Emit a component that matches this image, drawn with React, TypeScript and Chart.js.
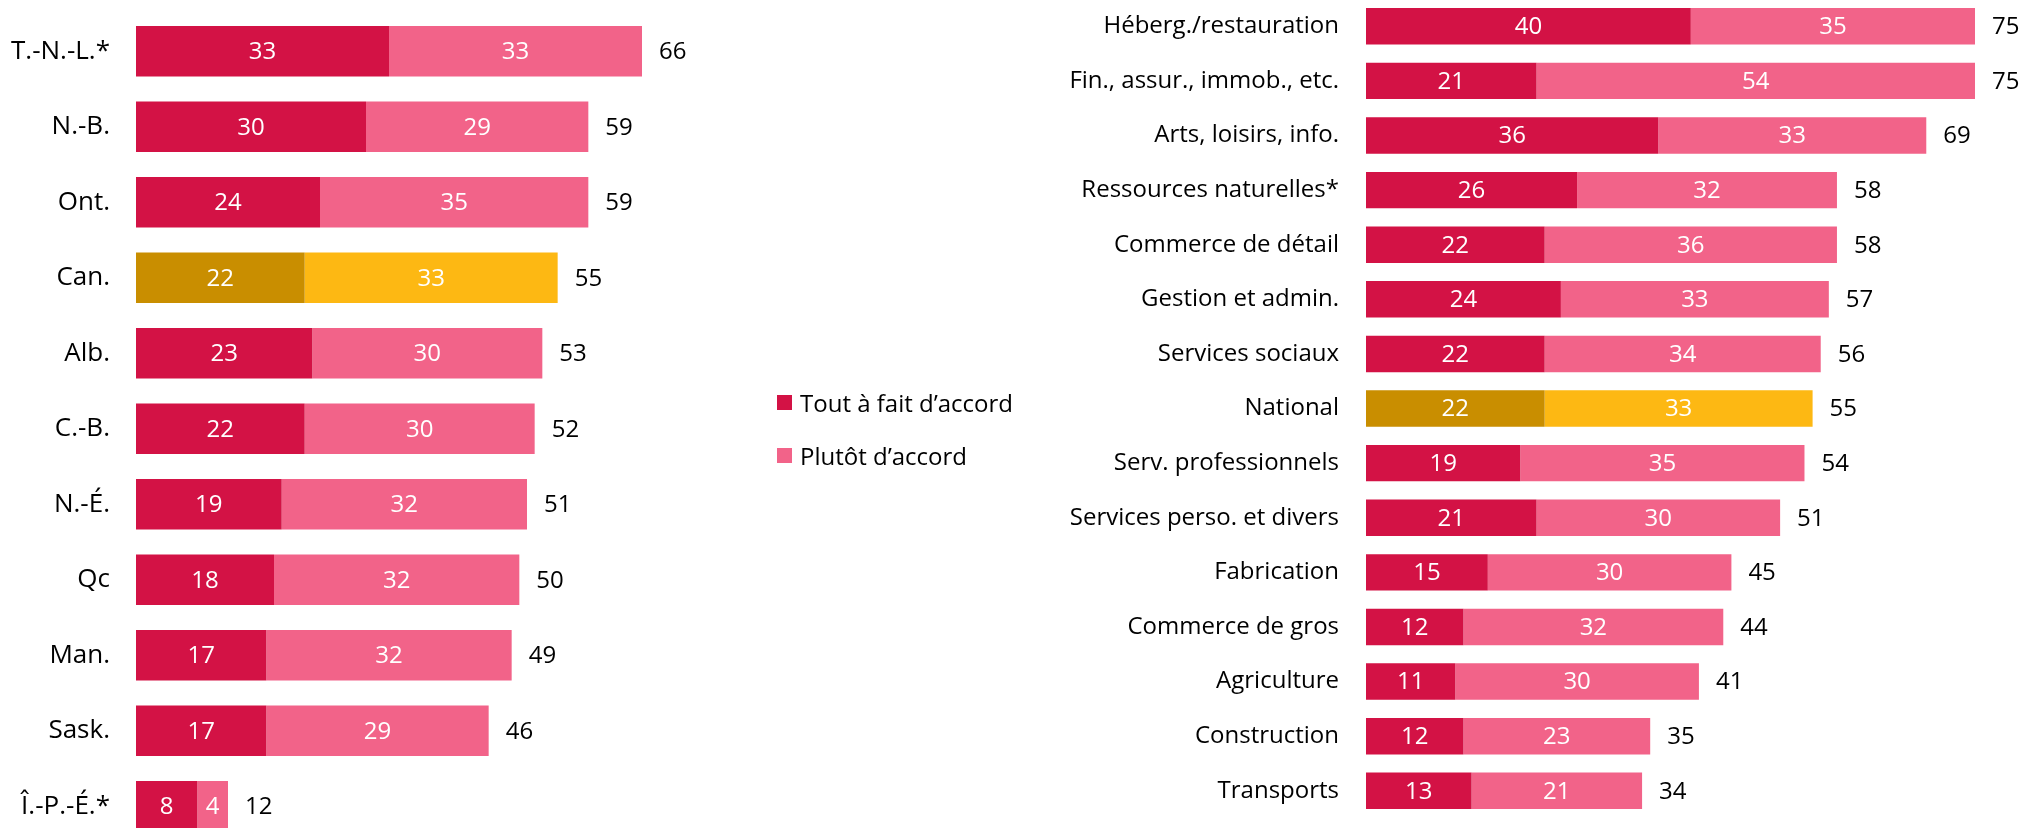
import React, { useEffect, useRef } from "react";
import { Chart, registerables } from "chart.js";

Chart.register(...registerables);

// ---- Data ----
const provinces = ["T.-N.-L.*", "N.-B.", "Ont.", "Can.", "Alb.", "C.-B.", "N.-É.", "Qc", "Man.", "Sask.", "Î.-P.-É.*"];
const provTout = [33, 30, 24, 22, 23, 22, 19, 18, 17, 17, 8];
const provPlutot = [33, 29, 35, 33, 30, 30, 32, 32, 32, 29, 4];
const provTotal = [66, 59, 59, 55, 53, 52, 51, 50, 49, 46, 12];
const provHighlight = "Can.";

const sectors = [
  "Héberg./restauration",
  "Fin., assur., immob., etc.",
  "Arts, loisirs, info.",
  "Ressources naturelles*",
  "Commerce de détail",
  "Gestion et admin.",
  "Services sociaux",
  "National",
  "Serv. professionnels",
  "Services perso. et divers",
  "Fabrication",
  "Commerce de gros",
  "Agriculture",
  "Construction",
  "Transports",
];
const sectorTout = [40, 21, 36, 26, 22, 24, 22, 22, 19, 21, 15, 12, 11, 12, 13];
const sectorPlutot = [35, 54, 33, 32, 36, 33, 34, 33, 35, 30, 30, 32, 30, 23, 21];
const sectorTotal = [75, 75, 69, 58, 58, 57, 56, 55, 54, 51, 45, 44, 41, 35, 34];
const sectorHighlight = "National";

const seriesNames = ["Tout à fait d’accord", "Plutôt d’accord"];

// ---- Styles ----
const RED = "#D31245";
const PINK = "#F26389";
const GOLD_DARK = "#C98E00";
const GOLD = "#FDB813";
const FONT = "'Open Sans', 'Noto Sans', sans-serif";

type Setup = {
  labels: string[];
  tout: number[];
  plutot: number[];
  totals: number[];
  highlight: string;
  axisWidth: number;
  padTop: number;
  padBottom: number;
  padRight: number;
  xMax: number;
  tickPad: number;
  tickFontSize: number;
  valueFontSize: number;
  barPct: number;
};

function makeLabelPlugin(totals: number[], fontSize: number) {
  return {
    id: "valueLabels",
    afterDatasetsDraw(chart: any) {
      const ctx = chart.ctx;
      ctx.save();
      ctx.font = `${fontSize}px ${FONT}`;
      ctx.textBaseline = "middle";
      ctx.textAlign = "center";
      ctx.fillStyle = "#ffffff";
      [0, 1].forEach((di) => {
        const meta = chart.getDatasetMeta(di);
        meta.data.forEach((bar: any, i: number) => {
          const p = bar.getProps(["x", "y", "base"], true);
          ctx.fillText(String(chart.data.datasets[di].data[i]), (p.x + p.base) / 2, p.y + 1);
        });
      });
      ctx.textAlign = "left";
      ctx.fillStyle = "#000000";
      const meta1 = chart.getDatasetMeta(1);
      meta1.data.forEach((bar: any, i: number) => {
        const p = bar.getProps(["x", "y"], true);
        ctx.fillText(String(totals[i]), p.x + 17, p.y + 1);
      });
      ctx.restore();
    },
  };
}

function buildConfig(s: Setup): any {
  const c1 = s.labels.map((l) => (l === s.highlight ? GOLD_DARK : RED));
  const c2 = s.labels.map((l) => (l === s.highlight ? GOLD : PINK));
  return {
    type: "bar",
    data: {
      labels: s.labels,
      datasets: [
        { label: seriesNames[0], data: s.tout, backgroundColor: c1, borderWidth: 0, clip: false },
        { label: seriesNames[1], data: s.plutot, backgroundColor: c2, borderWidth: 0, clip: false },
      ],
    },
    options: {
      indexAxis: "y",
      responsive: false,
      animation: false,
      events: [],
      layout: { padding: { top: s.padTop, bottom: s.padBottom, left: 0, right: s.padRight } },
      datasets: { bar: { categoryPercentage: 1, barPercentage: s.barPct } },
      plugins: { legend: { display: false }, tooltip: { enabled: false } },
      scales: {
        x: { stacked: true, display: false, min: 0, max: s.xMax },
        y: {
          stacked: true,
          offset: false,
          grid: { display: false, drawTicks: false },
          border: { display: false },
          ticks: {
            color: "#000000",
            padding: s.tickPad,
            font: { family: FONT, size: s.tickFontSize },
            autoSkip: false,
          },
          afterFit: (scale: any) => {
            scale.width = s.axisWidth;
            scale.paddingTop = 0;
            scale.paddingBottom = 0;
          },
        },
      },
    },
    plugins: [makeLabelPlugin(s.totals, s.valueFontSize)],
  };
}

function BarPanel(props: { setup: Setup; left: number; width: number }) {
  const ref = useRef<HTMLCanvasElement | null>(null);
  useEffect(() => {
    if (!ref.current) return;
    const chart = new Chart(ref.current, buildConfig(props.setup));
    return () => chart.destroy();
  }, []);
  return (
    <canvas
      ref={ref}
      width={props.width}
      height={828}
      style={{ position: "absolute", left: props.left, top: 0, width: props.width, height: 828 }}
    />
  );
}

const leftSetup: Setup = {
  labels: provinces,
  tout: provTout,
  plutot: provPlutot,
  totals: provTotal,
  highlight: provHighlight,
  axisWidth: 136,
  padTop: 51.3,
  padBottom: 828 - 806.3,
  padRight: 0,
  xMax: 75,
  tickPad: 26,
  tickFontSize: 26,
  valueFontSize: 24,
  barPct: 0.669,
};

const rightSetup: Setup = {
  labels: sectors,
  tout: sectorTout,
  plutot: sectorPlutot,
  totals: sectorTotal,
  highlight: sectorHighlight,
  axisWidth: 366,
  padTop: 26.3,
  padBottom: 828 - 790.8,
  padRight: 50,
  xMax: 75,
  tickPad: 27,
  tickFontSize: 24,
  valueFontSize: 24,
  barPct: 0.667,
};

export default function App() {
  const legendColors = [RED, PINK];
  const legendCenters = [402, 455];
  return (
    <div
      style={{
        position: "fixed",
        left: 0,
        top: 0,
        width: 2028,
        height: 828,
        background: "#ffffff",
        overflow: "hidden",
      }}
    >
      <BarPanel setup={leftSetup} left={0} width={711} />
      <BarPanel setup={rightSetup} left={1000} width={1025} />
      {seriesNames.map((name, i) => (
        <div
          key={name}
          style={{
            position: "absolute",
            left: 777,
            top: legendCenters[i] - 16,
            height: 32,
            display: "flex",
            alignItems: "center",
            fontFamily: FONT,
            fontSize: 24,
            color: "#000000",
            whiteSpace: "nowrap",
          }}
        >
          <span style={{ display: "inline-block", width: 15, height: 15, background: legendColors[i], marginRight: 8 }} />
          <span>{name}</span>
        </div>
      ))}
    </div>
  );
}
